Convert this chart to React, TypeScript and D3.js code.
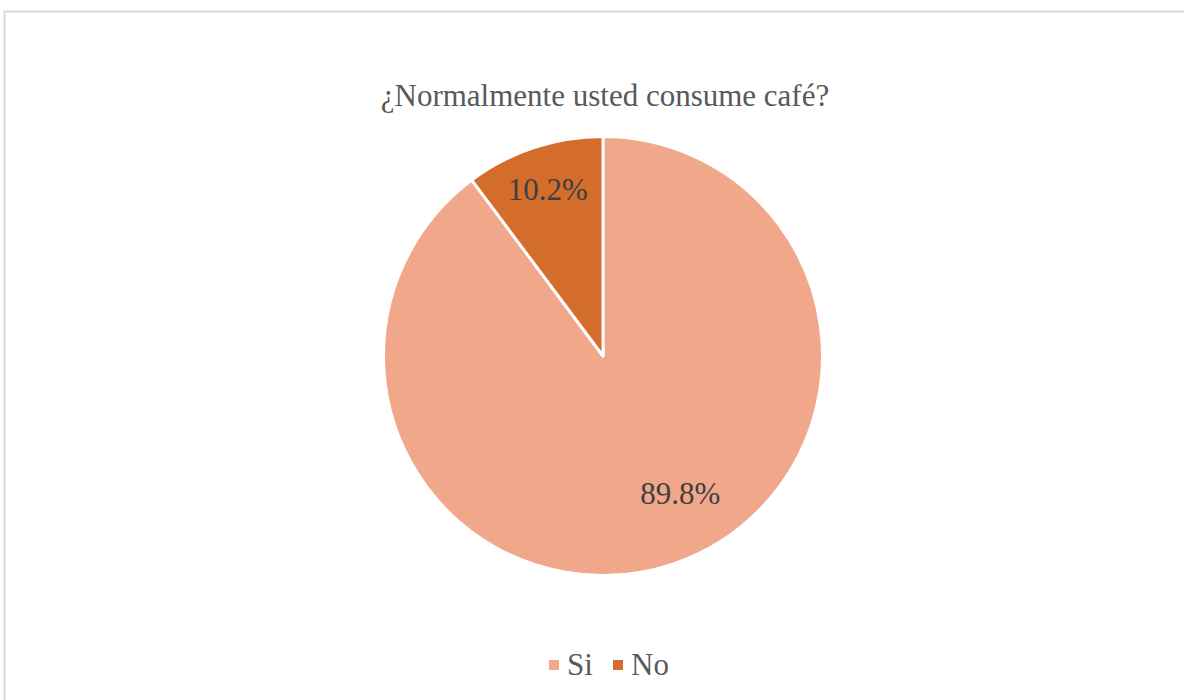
import React from "react";
import * as d3 from "d3";

const categories = ["Si", "No"];
const values = [89.8, 10.2];
const colors = ["#F1A78A", "#D46D2B"];
const title = "¿Normalmente usted consume café?";

const W = 1184;
const H = 700;
const cx = 603;
const cy = 356;
const R = 219.5;
const FONT = "'Liberation Serif', 'Times New Roman', serif";

export default function App() {
  const data = categories.map((c, i) => ({ c, v: values[i], color: colors[i] }));
  const pie = d3
    .pie<any>()
    .sort(null)
    .value((d) => d.v)
    .startAngle(0)
    .endAngle(2 * Math.PI);
  const arcs = pie(data);
  const arc = d3.arc<any>().innerRadius(0).outerRadius(R);
  // label placement mimicking Excel best-fit
  const labelRadius = [0.72 * R, 0.8 * R];
  const labelAngleShift = [-0.19, 0];
  const fmt = d3.format(".1f");

  const legendItems = [
    { x: 549, tx: 567 },
    { x: 613, tx: 631 },
  ];

  return (
    <svg
      width={W}
      height={H}
      style={{ position: "absolute", left: 0, top: 0, background: "#fff", fontFamily: FONT }}
    >
      <rect x={4.5} y={11.5} width={1300} height={800} fill="#fff" stroke="#D9D9D9" strokeWidth={2} />
      <text x={605} y={106} textAnchor="middle" fontSize={31} fill="#595959" style={{ fontFamily: FONT }}>
        {title}
      </text>
      <g transform={`translate(${cx},${cy})`}>
        {arcs.map((a, i) => (
          <path key={i} d={arc(a) || ""} fill={a.data.color} stroke="#fff" strokeWidth={3} strokeLinejoin="round" />
        ))}
        {arcs.map((a, i) => {
          const mid = (a.startAngle + a.endAngle) / 2 + labelAngleShift[i];
          const r = labelRadius[i];
          const x = Math.sin(mid) * r;
          const y = -Math.cos(mid) * r;
          return (
            <text key={i} x={x} y={y} textAnchor="middle" dominantBaseline="central" fontSize={31} fill="#404040" style={{ fontFamily: FONT }}>
              {fmt(a.data.v)}%
            </text>
          );
        })}
      </g>
      {data.map((d, i) => (
        <g key={d.c}>
          <rect x={legendItems[i].x} y={660} width={10} height={10} fill={d.color} />
          <text x={legendItems[i].tx} y={675} fontSize={31} fill="#595959" style={{ fontFamily: FONT }}>
            {d.c}
          </text>
        </g>
      ))}
    </svg>
  );
}
